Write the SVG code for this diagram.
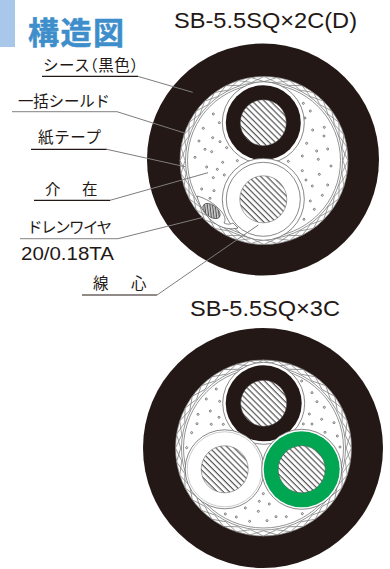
<svg xmlns="http://www.w3.org/2000/svg" xmlns:xlink="http://www.w3.org/1999/xlink" width="390" height="569" viewBox="0 0 390 569">
<style>
.jp{font-family:"Noto Sans CJK JP","Noto Sans",sans-serif;font-size:15.5px;fill:#231815;font-feature-settings:"halt"}
.en{font-family:"Liberation Sans",Arial,sans-serif;fill:#231815}
.ul{stroke:#231815;stroke-width:1.2;fill:none}
.ulg{stroke:#9a9a9a;stroke-width:1.2;fill:none}
.ld{stroke:#7d7d7d;stroke-width:1;fill:none}
.thin{fill:none;stroke:#666;stroke-width:.7}
.wr{fill:#fff;stroke:#555;stroke-width:.7}
.br{fill:none;stroke:#808080;stroke-width:.7}
.dots circle{fill:#fff;stroke:#666;stroke-width:2.6}
.blk{fill:#231815}
.hat{fill:url(#h);stroke:#555;stroke-width:.5}
</style>
<defs>
<pattern id="h" width="4" height="4.3" patternUnits="userSpaceOnUse" patternTransform="rotate(45)">
<rect width="4" height="4.3" fill="#fff"/>
<rect width="4" height="1.2" fill="#555"/>
</pattern>
<pattern id="h2" width="4" height="2.6" patternUnits="userSpaceOnUse" patternTransform="rotate(45)">
<rect width="4" height="2.6" fill="#d0d0d0"/>
<rect width="4" height="1.1" fill="#555"/>
</pattern>
<g id="z1"><path class="br" d="M79 0L83 13.1L75.1 24.4M84 0L78 12.4L79.9 26"/></g>
<g id="z2"><use xlink:href="#z1"/><use xlink:href="#z1" transform="rotate(18)"/></g>
<g id="z4"><use xlink:href="#z2"/><use xlink:href="#z2" transform="rotate(36)"/></g>
<g id="braid"><use xlink:href="#z4"/><use xlink:href="#z4" transform="rotate(72)"/><use xlink:href="#z4" transform="rotate(144)"/><use xlink:href="#z4" transform="rotate(216)"/><use xlink:href="#z4" transform="rotate(288)"/></g>
</defs>

<g id="title">
<rect x="0" y="0" width="15" height="47" fill="#a9c7e8"/>
<text x="28" y="44" font-family="'Noto Sans CJK JP',sans-serif" font-weight="700" font-size="31" fill="#3d8ecb" stroke="#3d8ecb" stroke-width=".5" textLength="96">構造図</text>
</g>

<text id="head-1" class="en" x="174" y="28" font-size="21.5" textLength="183" lengthAdjust="spacingAndGlyphs">SB-5.5SQ×2C(D)</text>
<text id="head-2" class="en" x="190" y="316" font-size="21.5" textLength="150" lengthAdjust="spacingAndGlyphs">SB-5.5SQ×3C</text>

<g id="cable-2c">
<circle class="blk" cx="263" cy="159.5" r="116"/>
<circle cx="264" cy="160.5" r="84" fill="#fff" stroke="#808080" stroke-width=".7"/>
<g transform="translate(264 160.5)"><use xlink:href="#braid"/></g>
<circle class="thin" cx="264" cy="160.5" r="78.5"/>
<circle class="thin" cx="264" cy="160.5" r="76.5"/>
<g class="dots" transform="translate(130 40) scale(.3333)">
<circle cx="250" cy="222" r="3"/><circle cx="268" cy="248" r="3"/><circle cx="220" cy="265" r="3"/><circle cx="207" cy="303" r="3"/><circle cx="248" cy="293" r="3"/><circle cx="270" cy="305" r="3"/><circle cx="225" cy="328" r="3"/><circle cx="245" cy="335" r="3"/><circle cx="290" cy="323" r="3"/><circle cx="195" cy="352" r="3"/><circle cx="278" cy="367" r="3"/><circle cx="322" cy="362" r="3"/><circle cx="230" cy="381" r="3"/><circle cx="262" cy="388" r="3"/><circle cx="250" cy="413" r="3"/><circle cx="283" cy="405" r="3"/><circle cx="215" cy="447" r="3"/><circle cx="252" cy="452" r="3"/><circle cx="240" cy="475" r="3"/>
<circle cx="520" cy="190" r="3"/><circle cx="541" cy="213" r="3"/><circle cx="525" cy="234" r="3"/><circle cx="548" cy="270" r="3"/><circle cx="583" cy="262" r="3"/><circle cx="582" cy="288" r="3"/><circle cx="530" cy="310" r="3"/><circle cx="560" cy="333" r="3"/><circle cx="593" cy="327" r="3"/><circle cx="517" cy="348" r="3"/><circle cx="565" cy="358" r="3"/><circle cx="475" cy="364" r="3"/><circle cx="603" cy="378" r="3"/><circle cx="517" cy="392" r="3"/><circle cx="568" cy="403" r="3"/><circle cx="528" cy="420" r="3"/><circle cx="593" cy="435" r="3"/><circle cx="547" cy="438" r="3"/><circle cx="577" cy="466" r="3"/><circle cx="541" cy="483" r="3"/><circle cx="553" cy="508" r="3"/><circle cx="522" cy="538" r="3"/>
</g>
<circle class="wr" cx="263.3" cy="122.7" r="41"/>
<circle class="blk" cx="263.3" cy="122.7" r="37.5"/>
<circle class="hat" cx="263.3" cy="122.7" r="23"/>
<circle class="wr" cx="263.3" cy="199.3" r="41"/>
<circle class="wr" cx="263.3" cy="199.3" r="37"/>
<circle class="hat" cx="263.3" cy="199.3" r="23.5"/>
<path class="wr" d="M197 196C205 198 214 203 221 211C225 216 226 220 224 223C228 225 231 224 233 223L238 228C230 230 222 228 216 224C207 218 200 208 197 196Z"/>
<ellipse cx="211.5" cy="211" rx="10" ry="5.8" transform="rotate(38 211.5 211)" fill="url(#h2)" stroke="#444" stroke-width=".7"/>
</g>

<g id="cable-3c">
<circle class="blk" cx="263" cy="448" r="120"/>
<circle cx="263.5" cy="448" r="88" fill="#fff" stroke="#808080" stroke-width=".7"/>
<g transform="translate(263.5 448) scale(1.048)"><use xlink:href="#braid"/></g>
<circle class="thin" cx="263.5" cy="448" r="82"/>
<circle class="thin" cx="263.5" cy="448" r="80"/>
<g class="dots" transform="translate(140 325) scale(.3333)">
<circle cx="229" cy="192" r="3"/><circle cx="199" cy="222" r="3"/><circle cx="239" cy="229" r="3"/><circle cx="174" cy="268" r="3"/><circle cx="211" cy="258" r="3"/><circle cx="237" cy="277" r="3"/><circle cx="171" cy="296" r="3"/><circle cx="214" cy="298" r="3"/><circle cx="250" cy="298" r="3"/><circle cx="155" cy="323" r="3"/><circle cx="140" cy="368" r="3"/><circle cx="485" cy="168" r="3"/><circle cx="516" cy="203" r="3"/><circle cx="531" cy="230" r="3"/><circle cx="508" cy="267" r="3"/><circle cx="553" cy="247" r="3"/><circle cx="545" cy="283" r="3"/><circle cx="582" cy="293" r="3"/><circle cx="490" cy="297" r="3"/><circle cx="516" cy="297" r="3"/><circle cx="555" cy="322" r="3"/><circle cx="592" cy="333" r="3"/><circle cx="600" cy="366" r="3"/><circle cx="370" cy="506" r="3"/><circle cx="358" cy="529" r="3"/><circle cx="388" cy="537" r="3"/><circle cx="316" cy="549" r="3"/><circle cx="355" cy="559" r="3"/><circle cx="256" cy="567" r="3"/><circle cx="289" cy="576" r="3"/><circle cx="329" cy="589" r="3"/><circle cx="381" cy="587" r="3"/><circle cx="408" cy="575" r="3"/><circle cx="439" cy="575" r="3"/><circle cx="487" cy="566" r="3"/>
</g>
<circle class="wr" cx="263.7" cy="403.3" r="41"/>
<circle class="blk" cx="263.7" cy="403.3" r="38"/>
<circle class="hat" cx="263.7" cy="403.3" r="23"/>
<circle class="wr" cx="224.7" cy="469.3" r="39.5"/>
<circle cx="224.7" cy="469.3" r="37.5" fill="#fff" stroke="#999" stroke-width=".5"/>
<circle class="hat" cx="224.7" cy="469.3" r="23.5"/>
<circle class="wr" cx="301.7" cy="469.3" r="40"/>
<circle cx="301.7" cy="469.3" r="38" fill="#00a651"/>
<circle class="hat" cx="301.7" cy="469.3" r="23.5"/>
</g>

<g id="connectors">
<path class="ul" d="M42 76.4H138"/><path class="ld" d="M138 76.4L192.7 92.3"/>
<path class="ulg" d="M12 111.7H117"/><path class="ld" d="M117 111.7L184.5 133"/>
<path class="ul" d="M31 149.3H106.7"/><path class="ld" d="M106.7 149.3L185 166.7"/>
<path class="ul" d="M34 200.3H110"/><path class="ld" d="M110 200.3L208 172.7"/>
<path class="ulg" d="M20 238.7H118"/><path class="ld" d="M118 238.7L203.3 217.3"/>
<path class="ul" d="M82 295H157"/><path class="ld" d="M157 295L258.3 225"/>
</g>

<text id="label-sheath" class="jp" x="43" y="71" textLength="95">シース（黒色）</text>
<text id="label-shield" class="jp" x="18" y="107" textLength="92">一括シールド</text>
<text id="label-tape" class="jp" x="38" y="143" textLength="63">紙テープ</text>
<g id="label-filler"><text class="jp" x="45" y="195">介</text><text class="jp" x="82" y="195">在</text></g>
<g id="label-drain"><text class="jp" x="27" y="233" textLength="85">ドレンワイヤ</text>
<text class="en" x="21" y="260" font-size="17.5" textLength="93" lengthAdjust="spacingAndGlyphs">20/0.18TA</text></g>
<g id="label-core"><text class="jp" x="93" y="289">線</text><text class="jp" x="131" y="289">心</text></g>
</svg>
